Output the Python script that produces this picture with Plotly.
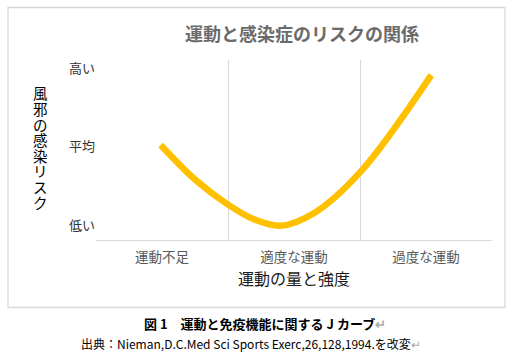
import plotly.graph_objects as go

# ---- data ----
categories = ["運動不足", "適度な運動", "過度な運動"]
category_pos = [0.5, 1.5, 2.5]
risk_labels = ["低い", "平均", "高い"]
risk_levels = [1, 2, 3]
curve_x = [0.49, 0.75, 1.0, 1.2, 1.4, 1.65, 2.0, 2.54]
curve_y = [2.02, 1.58, 1.26, 1.07, 0.99, 1.15, 1.67, 2.91]

title = "運動と感染症のリスクの関係"
x_title = "運動の量と強度"
y_title = "風邪の感染リスク"
caption1 = "図 1　運動と免疫機能に関する J カーブ"
caption2 = "出典：Nieman,D.C.Med Sci Sports Exerc,26,128,1994.を改変"

W, H = 521, 355
L, R, T, B = 96, 29, 60, 115
pw, ph = W - L - R, H - T - B

def px(x):
    return (x - L) / pw

def py(y):
    return (H - B - y) / ph

FONT = "Noto Sans CJK JP"
GRID = "#d9d9d9"

fig = go.Figure()
fig.add_trace(go.Scatter(
    x=curve_x, y=curve_y, mode="lines",
    line=dict(color="#FFC000", width=6.5, shape="spline", smoothing=1.0),
    hoverinfo="skip", showlegend=False,
))

annotations = [
    dict(text=title, x=px(302), y=py(33), xref="paper", yref="paper",
         showarrow=False, font=dict(family=FONT, size=18, color="#6a6a6a", weight="bold"),
         xanchor="center", yanchor="middle"),
    dict(text=caption1 + "<span style='color:#aaaaaa'>↵</span>", x=px(265), y=py(323),
         xref="paper", yref="paper", showarrow=False,
         font=dict(family=FONT, size=13, color="#000000", weight="bold"),
         xanchor="center", yanchor="middle"),
    dict(text=caption2 + "<span style='color:#aaaaaa'>↵</span>", x=px(251), y=py(343),
         xref="paper", yref="paper", showarrow=False,
         font=dict(family=FONT, size=12, color="#000000"),
         xanchor="center", yanchor="middle"),
]
# vertical (upright) y-axis title, one character per line
step = 15.6
n = len(y_title)
start = 147.5 - step * (n - 1) / 2
for i, ch in enumerate(y_title):
    annotations.append(dict(
        text=ch, x=px(40), y=py(start + i * step), xref="paper", yref="paper",
        showarrow=False, font=dict(family=FONT, size=14.5, color="#000000"),
        xanchor="center", yanchor="middle"))

fig.update_layout(
    width=W, height=H,
    margin=dict(l=L, r=R, t=T, b=B),
    paper_bgcolor="white", plot_bgcolor="white",
    font=dict(family=FONT),
    annotations=annotations,
    shapes=[dict(type="rect", xref="paper", yref="paper",
                 x0=px(8), x1=px(505), y0=py(307.5), y1=py(7.5),
                 line=dict(color=GRID, width=1.3), layer="below")],
    xaxis=dict(
        range=[0, 3], tickmode="array", tickvals=category_pos, ticktext=categories,
        showgrid=False, zeroline=False, showline=True, linecolor=GRID, linewidth=1,
        ticks="", ticklabelstandoff=5,
        tickfont=dict(family=FONT, size=13.5, color="#595959"),
        minor=dict(tickmode="array", tickvals=[0, 1, 2, 3], showgrid=True,
                   gridcolor=GRID, gridwidth=1, ticks=""),
        title=dict(text=x_title, font=dict(family=FONT, size=16, color="#1a1a1a"),
                   standoff=8),
        fixedrange=True,
    ),
    yaxis=dict(
        range=[0.809, 3.102], tickmode="array", tickvals=risk_levels, ticktext=risk_labels,
        showgrid=False, zeroline=False, showline=False, ticks="",
        tickfont=dict(family=FONT, size=13, color="#333333"),
        fixedrange=True,
    ),
)

fig.write_html("out.html")
